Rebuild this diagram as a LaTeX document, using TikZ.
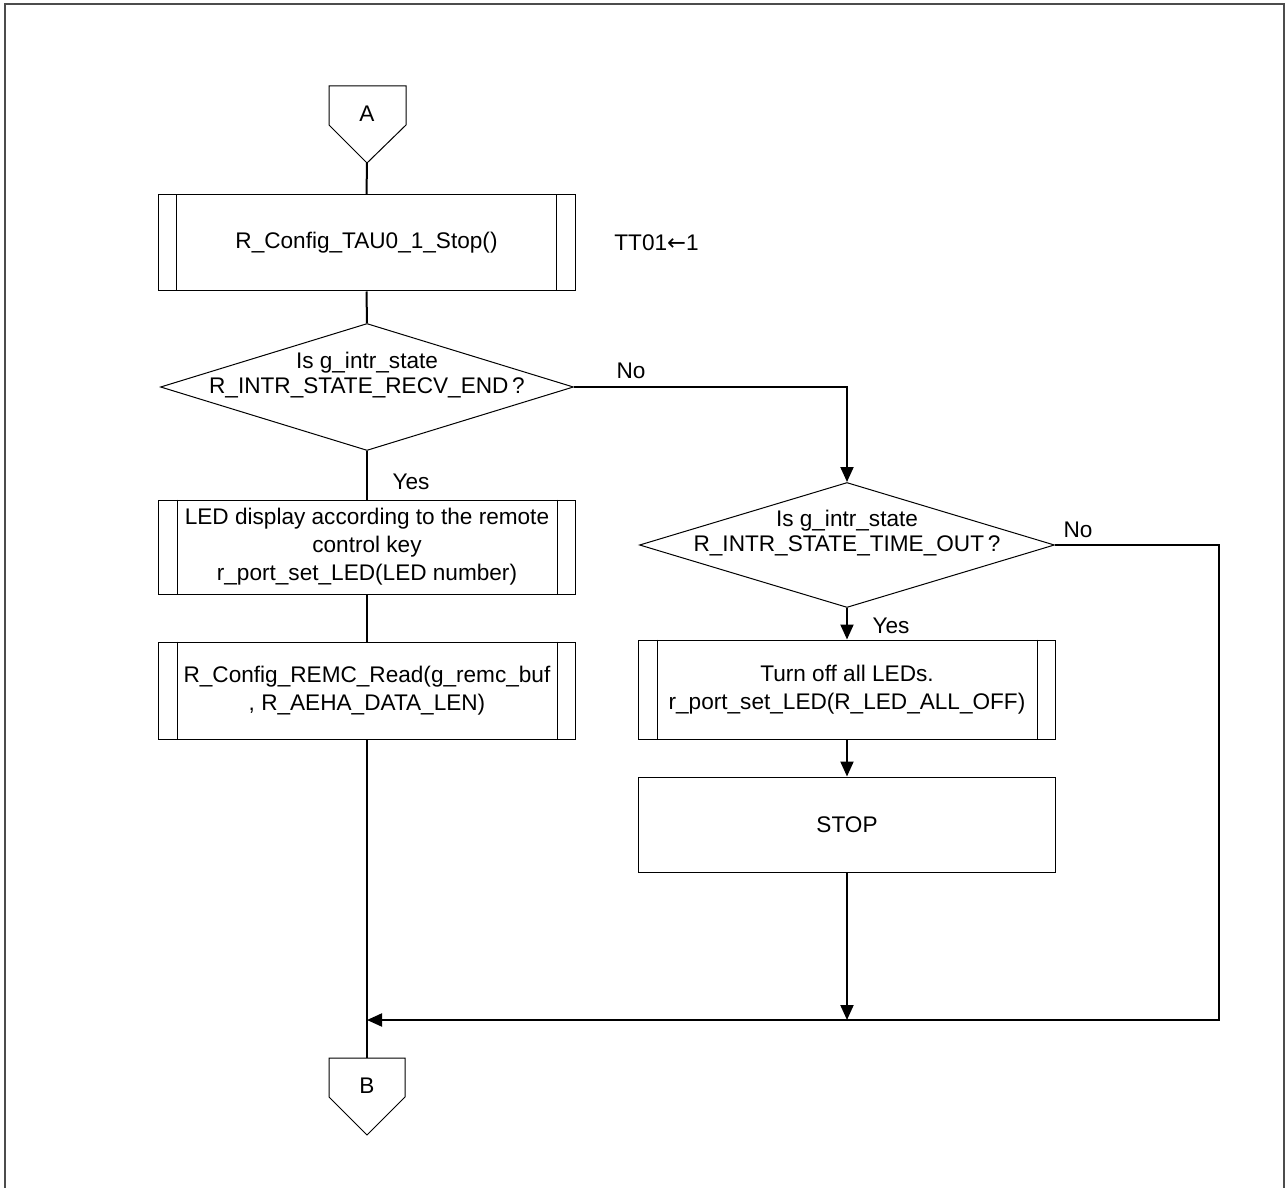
\documentclass[tikz,border=0pt]{standalone}
\usepackage{fontspec}
\setmainfont{Liberation Sans}
\newfontfamily\arrowfont{DejaVu Sans}
\usepackage{tikz}
\usetikzlibrary{arrows.meta}
\usetikzlibrary{shapes.geometric}
\usetikzlibrary{positioning}
\tikzstyle{line} = [draw, line width=1pt, -{Triangle[length=7.5pt,width=6.5pt]}]
\tikzset{
    proc/.style={draw, line width=0.5pt, rectangle, minimum width=208.5pt, minimum height=48pt,
        align=center, inner sep=0pt, font=\fontsize{11.3}{14}\selectfont},
    decision/.style={draw, line width=0.5pt, diamond, inner sep=0pt},
    flow/.style={draw, line width=1pt},
    lbl/.style={font=\fontsize{11.3}{13}\selectfont},
}
% the two inner bars of a predefined process box
\newcommand{\procbars}[1]{
    \draw[line width=0.5pt] ([xshift=9.5pt]#1.north west)--([xshift=9.5pt]#1.south west);
    \draw[line width=0.5pt] ([xshift=-9.5pt]#1.north east)--([xshift=-9.5pt]#1.south east);
}
\begin{document}
\begin{tikzpicture}[x=0.5pt, y=-0.5pt, lbl]
	\useasboundingbox (0,0) rectangle (1287,1188);
	\draw[line width=1pt, gray!60!black] (5,1188)--(5,4)--(1284,4)--(1284,1188);
	% off-page connector A
	\draw[line width=0.5pt] (329,86)--(406,86)--(406,125)--(367,163)--(329,125)--cycle;
	\node (A) at (367,114) {A};
	\coordinate (Atip) at (367,163);
	% left column
	\node[proc] (stop01) at (366.5,243) {R\_Config\_TAU0\_1\_Stop()};
	\procbars{stop01}
	\node[lbl, anchor=west, inner sep=0pt] (tt01) at (614,243) {TT01{\arrowfont ←}1};
	\node[decision, minimum width=206.5pt, minimum height=63.5pt] (recv) at (367,387) {};
	\node[align=center, font=\fontsize{11.3}{12.5}\selectfont] (recvtxt) at (367,375) {Is g\_intr\_state\\R\_INTR\_STATE\_RECV\_END\,?};
	\node[proc, minimum height=47pt] (led) at (367,547) {LED display according to the remote\\control key\\r\_port\_set\_LED(LED number)};
	\procbars{led}
	\node[proc, minimum height=48.5pt] (read) at (367,690.5) {R\_Config\_REMC\_Read(g\_remc\_buf\\, R\_AEHA\_DATA\_LEN)};
	\procbars{read}
	% right column
	\node[decision, minimum width=207.5pt, minimum height=62.5pt] (tout) at (847,545) {};
	\node[align=center, font=\fontsize{11.3}{12.5}\selectfont] (touttxt) at (847,533) {Is g\_intr\_state\\R\_INTR\_STATE\_TIME\_OUT\,?};
	\node[proc, minimum height=49.5pt] (off) at (847,689.5) {Turn off all LEDs.\\r\_port\_set\_LED(R\_LED\_ALL\_OFF)};
	\procbars{off}
	\node[proc, minimum height=47.5pt] (stop) at (847,824.5) {STOP};
	% off-page connector B
	\coordinate (Btop) at (367,1058);
	\draw[line width=0.5pt] (329,1058)--(405,1058)--(405,1097)--(367,1135)--(329,1097)--cycle;
	\node (B) at (367,1086) {B};
	% connectors
	\coordinate (merge) at (367,1020);
	\coordinate (nocorner) at (847,387);
	\coordinate (rc) at (1219,545);
	\draw[flow] (Atip)--(stop01.north);
	\draw[flow] (stop01.south)--(recv.north);
	\draw[flow] (recv.south)--(led.north);
	\draw[flow] (led.south)--(read.north);
	\draw[flow] (read.south)--(Btop);
	\draw[line] (recv.east)--(nocorner)--(tout.north);
	\draw[line] (tout.south)--(off.north);
	\draw[line] (off.south)--(stop.north);
	\draw[line] (stop.south)--(stop.south |- merge);
	\draw[line] (tout.east)--(rc) |- (merge);
	% labels
	\node (no1) at (631,371) {No};
	\node (yes1) at (411,482) {Yes};
	\node (no2) at (1078,530) {No};
	\node (yes2) at (891,626) {Yes};
\end{tikzpicture}
\end{document}
